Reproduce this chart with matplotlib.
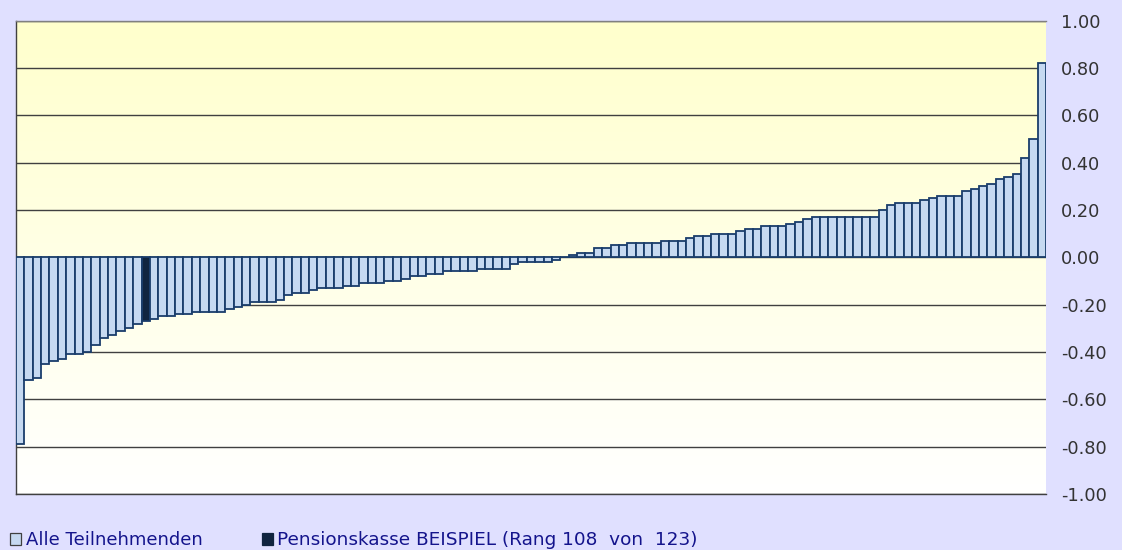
import numpy as np
import matplotlib
matplotlib.use("Agg")
import matplotlib.pyplot as plt
from matplotlib.patches import Rectangle
from matplotlib.colors import LinearSegmentedColormap

values = [
    -0.79, -0.52, -0.51, -0.45, -0.44, -0.43, -0.41, -0.41, -0.40, -0.37,
    -0.34, -0.33, -0.31, -0.30, -0.28, -0.27, -0.26, -0.25, -0.25, -0.24,
    -0.24, -0.23, -0.23, -0.23, -0.23, -0.22, -0.21, -0.20, -0.19, -0.19,
    -0.19, -0.18, -0.16, -0.15, -0.15, -0.14, -0.13, -0.13, -0.13, -0.12,
    -0.12, -0.11, -0.11, -0.11, -0.10, -0.10, -0.09, -0.08, -0.08, -0.07,
    -0.07, -0.06, -0.06, -0.06, -0.06, -0.05, -0.05, -0.05, -0.05, -0.03,
    -0.02, -0.02, -0.02, -0.02, -0.01, 0.00, 0.01, 0.02, 0.02, 0.04,
    0.04, 0.05, 0.05, 0.06, 0.06, 0.06, 0.06, 0.07, 0.07, 0.07,
    0.08, 0.09, 0.09, 0.10, 0.10, 0.10, 0.11, 0.12, 0.12, 0.13,
    0.13, 0.13, 0.14, 0.15, 0.16, 0.17, 0.17, 0.17, 0.17, 0.17,
    0.17, 0.17, 0.17, 0.20, 0.22, 0.23, 0.23, 0.23, 0.24, 0.25,
    0.26, 0.26, 0.26, 0.28, 0.29, 0.30, 0.31, 0.33, 0.34, 0.35,
    0.42, 0.50, 0.82,
]
highlight_index = 15
yticks = [1.0, 0.8, 0.6, 0.4, 0.2, 0.0, -0.2, -0.4, -0.6, -0.8, -1.0]
legend_labels = ["Alle Teilnehmenden", "Pensionskasse BEISPIEL (Rang 108  von  123)"]

W, H = 1122, 550
fig = plt.figure(figsize=(W / 100, H / 100), dpi=100)
fig.patch.set_facecolor("#E0E0FF")

ax = fig.add_axes([16 / W, 1 - 494 / H, (1046 - 16) / W, (494 - 20.5) / H])
ax.set_facecolor("none")

# gradient background
cmap = LinearSegmentedColormap.from_list("bg", ["#FFFFFF", "#FFFFCC"])
grad = np.linspace(0, 1, 256).reshape(-1, 1)
ax.imshow(grad, cmap=cmap, aspect="auto", extent=[0, 1, 0, 1],
          transform=ax.transAxes, origin="lower", zorder=0)

n = len(values)
x = np.arange(n)
colors = ["#C6D9F1"] * n
colors[highlight_index] = "#10243F"
ax.bar(x, values, width=1.0, color=colors, edgecolor="#1A3D6B",
       linewidth=1.3, zorder=3)

for t in yticks:
    ax.axhline(t, color="#404040", linewidth=1.0, zorder=1)

ax.set_xlim(-0.5, n - 0.5)
ax.set_ylim(-1.0, 1.0)
ax.set_xticks([])
ax.set_yticks(yticks)
ax.set_yticklabels([f"{t:.2f}" for t in yticks])
ax.yaxis.tick_right()
ax.tick_params(axis="y", length=0, pad=11, labelsize=12.8, labelcolor="#333333")
for lab in ax.get_yticklabels():
    lab.set_fontfamily("DejaVu Sans")

ax.spines["right"].set_visible(False)
ax.spines["top"].set_color("#808080")
ax.spines["left"].set_color("#404040")
ax.spines["bottom"].set_color("#404040")
for s in ax.spines.values():
    s.set_linewidth(1.0)

# legend drawn manually in figure pixel coordinates
def fx(px):
    return px / W

def fy(py):
    return 1 - py / H

fig.patches.append(Rectangle((fx(9.5), fy(545)), 11 / W, 12 / H,
                             transform=fig.transFigure, facecolor="#C6D9F1",
                             edgecolor="#404040", linewidth=0.9))
fig.patches.append(Rectangle((fx(262), fy(545)), 11 / W, 12 / H,
                             transform=fig.transFigure, facecolor="#10243F",
                             edgecolor="#10243F", linewidth=0.9))
fig.text(fx(26.5), fy(545.3), legend_labels[0], ha="left", va="baseline",
         fontsize=13.0, color="#14148C", family="DejaVu Sans")
fig.text(fx(277), fy(545.3), legend_labels[1], ha="left", va="baseline",
         fontsize=13.3, color="#14148C", family="DejaVu Sans")

fig.savefig("out.png", dpi=100, facecolor=fig.get_facecolor())
